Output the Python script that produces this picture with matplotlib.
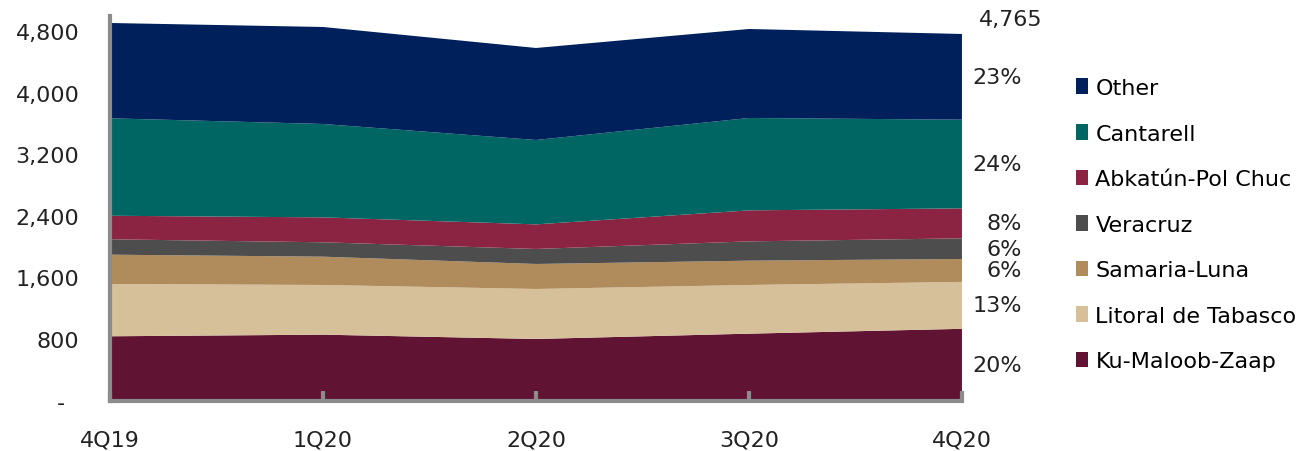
import numpy as np
import matplotlib.pyplot as plt
from matplotlib.patches import Patch
from matplotlib.ticker import FuncFormatter

# producción por activo (mbd), apilada de abajo hacia arriba
trimestres = ["4Q19", "1Q20", "2Q20", "3Q20", "4Q20"]
ku_maloob_zaap = [835, 856, 800, 869, 932]
litoral_tabasco = [680, 646, 650, 633, 610]
samaria_luna = [381, 368, 325, 316, 298]
veracruz = [200, 187, 195, 251, 268]
abkatun = [306, 324, 320, 403, 390]
cantarell = [1267, 1214, 1097, 1201, 1153]
otros = [1239, 1261, 1196, 1157, 1114]

nombres = ["Ku-Maloob-Zaap", "Litoral de Tabasco", "Samaria-Luna", "Veracruz",
           "Abkatún-Pol Chuc", "Cantarell", "Other"]
colores = ["#601332", "#D5C09A", "#B08B5C", "#4D4D4D", "#8B2342", "#006663", "#00205B"]
series = [ku_maloob_zaap, litoral_tabasco, samaria_luna, veracruz, abkatun, cantarell, otros]

fuente = "DejaVu Sans"
tam = 16

fig = plt.figure(figsize=(13.07, 4.52), dpi=100)
ax = fig.add_axes([0.0842, 0.1117, 0.736 - 0.0842, 0.9626 - 0.1117])

x = np.arange(len(trimestres))
ax.stackplot(x, *series, colors=colores, linewidth=0)

ax.set_xlim(0, 4)
ax.set_ylim(0, 5000)
ax.set_yticks(np.arange(0, 4801, 800))
ax.yaxis.set_major_formatter(FuncFormatter(lambda v, p: "-  " if v == 0 else f"{v:,.0f}"))
ax.set_xticks(x)
ax.set_xticklabels(trimestres)

for lado in ["top", "right"]:
    ax.spines[lado].set_visible(False)
for lado in ["left", "bottom"]:
    ax.spines[lado].set_color("#8C8C8C")
    ax.spines[lado].set_linewidth(3)
    ax.spines[lado].set_zorder(5)

ax.tick_params(axis="y", length=0, pad=22, labelsize=tam, labelcolor="#222222")
ax.tick_params(axis="x", direction="in", length=7, width=3, color="#8C8C8C",
               pad=21, labelsize=tam, labelcolor="#222222")
for t in ax.get_xticklabels() + ax.get_yticklabels():
    t.set_fontfamily(fuente)

# etiquetas de participación al final del periodo
ultimo = [s[-1] for s in series]
total = sum(ultimo)
base = 0
for v in ultimo:
    ax.text(4.28, base + v / 2, f"{round(v / total * 100):.0f}%", ha="right", va="center",
            fontsize=tam, family=fuente, color="#222222", clip_on=False)
    base += v
ax.text(4.23, total + 190, f"{total:,.0f}", ha="center", va="center",
        fontsize=tam, family=fuente, color="#222222", clip_on=False)

manijas = [Patch(facecolor=c, edgecolor="none") for c in colores]
ax.legend(manijas[::-1], nombres[::-1], loc="upper left", bbox_to_anchor=(0.8165, 0.845),
          bbox_transform=fig.transFigure, frameon=False,
          prop={"family": fuente, "size": tam},
          handlelength=0.52, handleheight=0.7, handletextpad=0.35, labelspacing=1.15,
          borderaxespad=0)

fig.savefig("out.png", dpi=100)
